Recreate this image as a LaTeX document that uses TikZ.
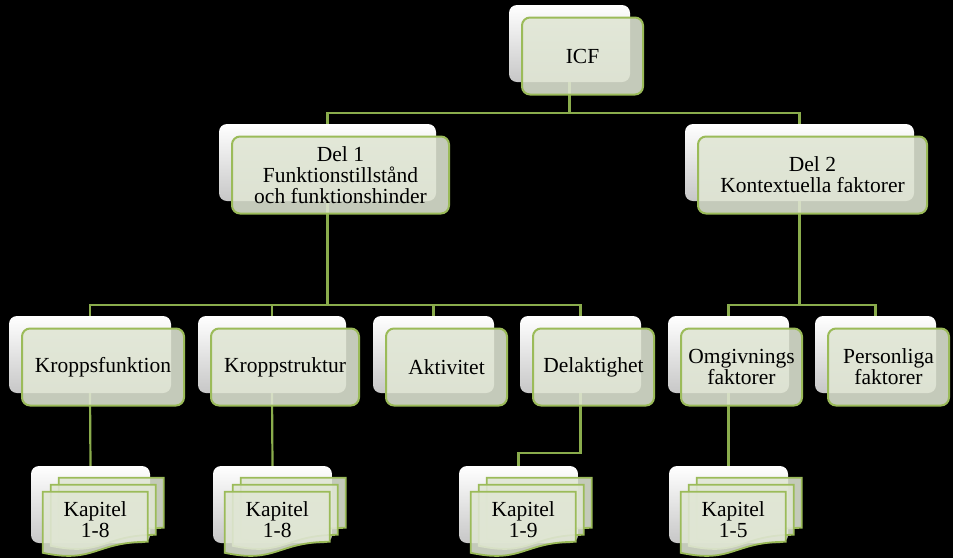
\documentclass[tikz,border=0pt]{standalone}
\usepackage{fontspec}
\setmainfont{Liberation Serif}
\usetikzlibrary{positioning}
\usetikzlibrary{calc}

\definecolor{leafgreen}{RGB}{155,187,89}
\definecolor{linkgreen}{RGB}{138,172,76}
\definecolor{boxfill}{RGB}{224,230,212}

\tikzset{
  backbox/.style={rectangle, rounded corners=8pt, top color=white, bottom color=black!22, draw=none, minimum width=#1, minimum height=77pt, inner sep=0pt},
  frontbox/.style={rectangle, rounded corners=8pt, draw=leafgreen, line width=2pt, fill=boxfill, fill opacity=0.88, text opacity=1, minimum width=#1, minimum height=77pt, inner sep=0pt, align=center, font=\fontsize{21.5}{21}\selectfont},
  link/.style={draw=linkgreen, line width=2.2pt},
  sheet/.style={draw=leafgreen, line width=1.8pt, fill=boxfill, fill opacity=0.88}
}

\begin{document}
\begin{tikzpicture}[x=1pt, y=-1pt]

\fill[black] (0,0) rectangle (953,558);
\useasboundingbox (0,0) rectangle (953,558);

% back boxes
\node[backbox=121] (ICFbg) at (569.5, 43.5) {};
\node[backbox=217] (DEL1bg) at (327.5, 162.5) {};
\node[backbox=229] (DEL2bg) at (799.5, 162.5) {};
\node[backbox=162] (KFbg) at (90, 354.5) {};
\node[backbox=148] (KSbg) at (272, 354.5) {};
\node[backbox=121] (AKTbg) at (433.5, 354.5) {};
\node[backbox=121] (DELbg) at (580.5, 354.5) {};
\node[backbox=121] (OMGbg) at (728.5, 354.5) {};
\node[backbox=121] (PERSbg) at (875.5, 354.5) {};
\node[backbox=119] (KAP1) at (90.5, 504.5) {};
\node[backbox=119] (KAP2) at (272.5, 504.5) {};
\node[backbox=119] (KAP3) at (518.5, 504.5) {};
\node[backbox=119] (KAP4) at (728.5, 504.5) {};

% connectors
\draw[link] (ICFbg.south) -- ++(0,31) -| (DEL1bg.north);
\draw[link] (ICFbg.south) -- ++(0,31) -| (DEL2bg.north);
\draw[link] (DEL1bg.south) -- ++(0,104) -| (KFbg.north);
\draw[link] (DEL1bg.south) -- ++(0,104) -| (KSbg.north);
\draw[link] (DEL1bg.south) -- ++(0,104) -| (AKTbg.north);
\draw[link] (DEL1bg.south) -- ++(0,104) -| (DELbg.north);
\draw[link] (DEL2bg.south) -- ++(0,104) -| (OMGbg.north);
\draw[link] (DEL2bg.south) -- ++(0,104) -| (PERSbg.north);
\draw[link] (KFbg.south) -- (KAP1.north);
\draw[link] (KSbg.south) -- (KAP2.north);
\draw[link] (DELbg.south) -- ++(0,60) -| (KAP3.north);
\draw[link] (OMGbg.south) -- (KAP4.north);

% front boxes
\node[frontbox=121] (ICF) at ($(ICFbg)+(13,12.5)$) {ICF};
\node[frontbox=217] (DEL1) at ($(DEL1bg)+(13,12.5)$) {Del 1\\Funktionstillstånd\\och funktionshinder};
\node[frontbox=229] (DEL2) at ($(DEL2bg)+(13,12.5)$) {Del 2\\Kontextuella faktorer};
\node[frontbox=162] (KF) at ($(KFbg)+(13,12.5)$) {Kroppsfunktion};
\node[frontbox=148] (KS) at ($(KSbg)+(13,12.5)$) {Kroppstruktur};
\node[frontbox=121] (AKT) at ($(AKTbg)+(13,12.5)$) {Aktivitet};
\node[frontbox=121] (DEL) at ($(DELbg)+(13,12.5)$) {Delaktighet};
\node[frontbox=121] (OMG) at ($(OMGbg)+(13,12.5)$) {Omgivnings\\faktorer};
\node[frontbox=121] (PERS) at ($(PERSbg)+(13,12.5)$) {Personliga\\faktorer};

% chapter sheets
\foreach \k/\t in {KAP1/1-8, KAP2/1-8, KAP3/1-9, KAP4/1-5} {
  \foreach \dx/\dy in {28/12, 20/19, 12/26} {
    \coordinate (P) at ($(\k.north west)+(\dx,\dy)$);
    \draw[sheet] (P) -- ($(P)+(105,0)$) -- ($(P)+(105,50)$) .. controls ($(P)+(52,50)$) and ($(P)+(52,72)$) .. ($(P)+(0,61)$) -- cycle;
  }
  \node[align=center, font=\fontsize{21.5}{21}\selectfont] (\k-txt) at ($(\k.north west)+(64.5,54)$) {Kapitel\\\t};
}

\end{tikzpicture}
\end{document}
